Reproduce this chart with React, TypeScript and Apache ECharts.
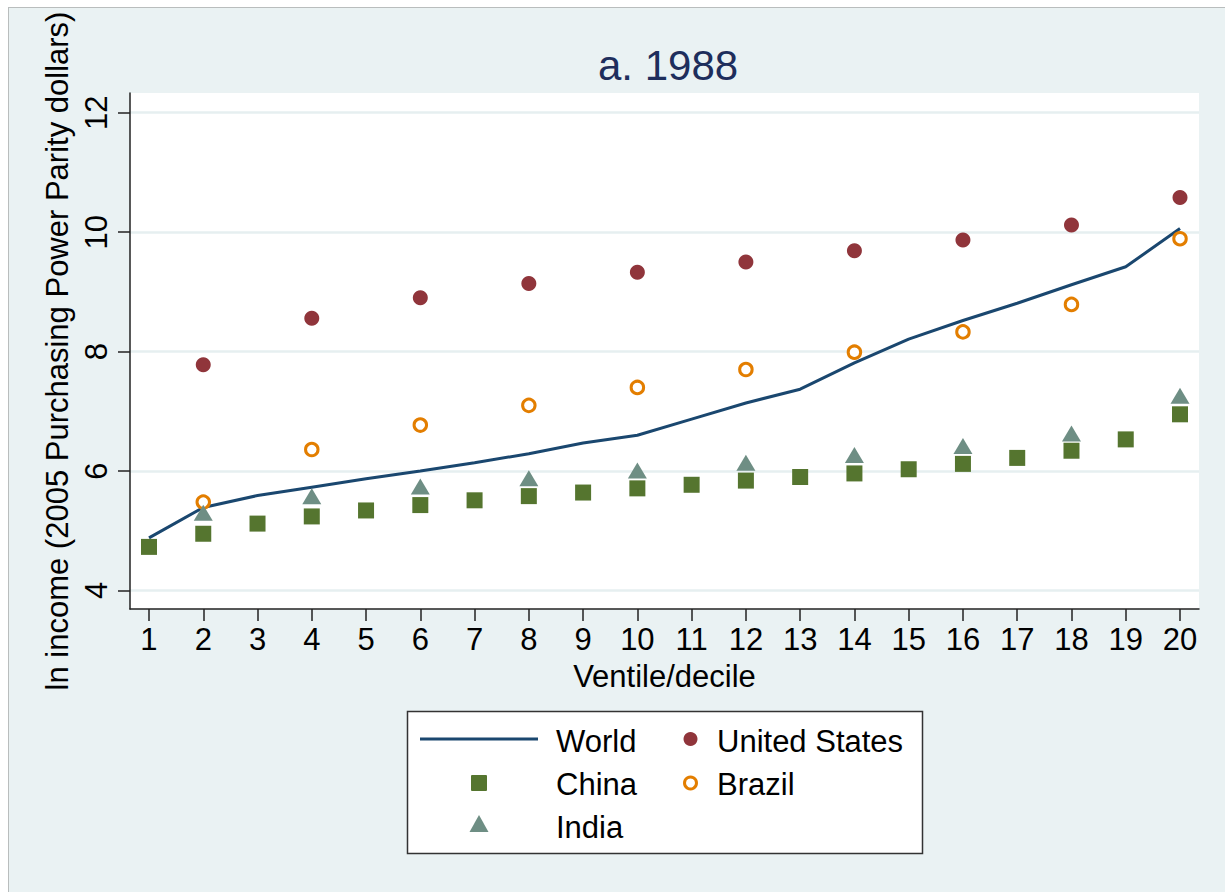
import React, { useEffect, useRef } from "react";
import * as echarts from "echarts";

const ventiles = [1, 2, 3, 4, 5, 6, 7, 8, 9, 10, 11, 12, 13, 14, 15, 16, 17, 18, 19, 20];
const deciles = [2, 4, 6, 8, 10, 12, 14, 16, 18, 20];
const yTicks = [4, 6, 8, 10, 12];

const world = [4.88, 5.39, 5.59, 5.73, 5.87, 6.0, 6.14, 6.29, 6.47, 6.6, 6.87, 7.14, 7.37, 7.81, 8.21, 8.52, 8.81, 9.12, 9.42, 10.06];
const china = [4.73, 4.95, 5.12, 5.24, 5.34, 5.43, 5.51, 5.58, 5.64, 5.71, 5.77, 5.84, 5.9, 5.96, 6.03, 6.12, 6.22, 6.34, 6.53, 6.95];
const unitedStates = [7.78, 8.56, 8.9, 9.14, 9.33, 9.5, 9.69, 9.87, 10.12, 10.58];
const brazil = [5.48, 6.36, 6.77, 7.1, 7.4, 7.7, 7.99, 8.33, 8.79, 9.89];
const india = [5.3, 5.58, 5.74, 5.88, 6.01, 6.14, 6.27, 6.42, 6.63, 7.26];

const C_WORLD = "#1A476F";
const C_US = "#90353B";
const C_CHINA = "#55752F";
const C_BRAZIL = "#E37E00";
const C_INDIA = "#6E8E84";
const FONT = "'Liberation Sans', Arial, sans-serif";

export default function App() {
  const ref = useRef<HTMLDivElement>(null);
  useEffect(() => {
    if (!ref.current) return;
    const chart = echarts.init(ref.current, null, { renderer: "svg" });
    const pairs = (xs: number[], ys: number[]) => xs.map((x, i) => [x, ys[i]]);
    const legendText = (x: number, y: number, t: string) => ({
      type: "text",
      x,
      y,
      style: { text: t, fontSize: 31, fontFamily: FONT, fill: "#000", verticalAlign: "middle", align: "left" },
      z: 10,
    });
    chart.setOption({
      animation: false,
      textStyle: { fontFamily: FONT },
      title: {
        text: "a. 1988",
        left: 593,
        top: 39,
        textStyle: { fontSize: 42, color: "#1E2E5C", fontWeight: "normal", fontFamily: FONT },
      },
      grid: {
        left: 130,
        right: 26,
        top: 93,
        bottom: 283,
        show: true,
        backgroundColor: "#fff",
        borderWidth: 0,
      },
      xAxis: {
        type: "value",
        min: 0.65,
        max: 20.35,
        name: "Ventile/decile",
        nameLocation: "middle",
        nameGap: 52,
        nameTextStyle: { fontSize: 31, color: "#000", fontFamily: FONT },
        axisLine: { show: true, onZero: false, lineStyle: { color: "#222", width: 1.5 } },
        axisTick: { show: true, customValues: ventiles, length: 12, lineStyle: { color: "#222", width: 1.5 } },
        axisLabel: { customValues: ventiles, fontSize: 31, color: "#000", margin: 15, fontFamily: FONT },
        splitLine: { show: false },
      },
      yAxis: {
        type: "value",
        min: 3.69,
        max: 12.33,
        name: "ln income (2005 Purchasing Power Parity dollars)",
        nameLocation: "middle",
        nameGap: 57,
        nameRotate: 90,
        nameTextStyle: { fontSize: 31, color: "#000", fontFamily: FONT },
        axisLine: { show: true, onZero: false, lineStyle: { color: "#222", width: 1.5 } },
        axisTick: { show: true, customValues: yTicks, length: 12, lineStyle: { color: "#222", width: 1.5 } },
        axisLabel: { customValues: yTicks, rotate: 90, fontSize: 31, color: "#000", margin: 18, fontFamily: FONT },
        splitLine: { show: true, lineStyle: { color: "#E6EFF0", width: 2.5 } },
      },
      series: [
        {
          name: "World",
          type: "line",
          data: pairs(ventiles, world),
          showSymbol: false,
          symbol: "none",
          lineStyle: { color: C_WORLD, width: 3 },
          z: 2,
        },
        {
          name: "United States",
          type: "scatter",
          data: pairs(deciles, unitedStates),
          symbol: "circle",
          symbolSize: 15,
          itemStyle: { color: C_US, opacity: 1 },
          z: 3,
        },
        {
          name: "China",
          type: "scatter",
          data: pairs(ventiles, china),
          symbol: "rect",
          symbolSize: 16,
          itemStyle: { color: C_CHINA, opacity: 1 },
          z: 3,
        },
        {
          name: "Brazil",
          type: "scatter",
          data: pairs(deciles, brazil),
          symbol: "circle",
          symbolSize: 12.5,
          itemStyle: { color: "#fff", borderColor: C_BRAZIL, borderWidth: 3, opacity: 1 },
          z: 3,
        },
        {
          name: "India",
          type: "scatter",
          data: pairs(deciles, india),
          symbol: "triangle",
          symbolSize: [19, 16],
          itemStyle: { color: C_INDIA, opacity: 1 },
          z: 4,
        },
      ],
      graphic: [
        {
          type: "rect",
          shape: { x: 407.5, y: 711.5, width: 515, height: 142 },
          style: { fill: "#fff", stroke: "#333", lineWidth: 1.5 },
          z: 5,
        },
        {
          type: "line",
          shape: { x1: 420, y1: 739, x2: 538, y2: 739 },
          style: { stroke: C_WORLD, lineWidth: 3 },
          z: 10,
        },
        legendText(556, 741, "World"),
        {
          type: "circle",
          shape: { cx: 690.5, cy: 739, r: 7 },
          style: { fill: C_US },
          z: 10,
        },
        legendText(717, 741, "United States"),
        {
          type: "rect",
          shape: { x: 471, y: 775, width: 16, height: 16, r: 1 },
          style: { fill: C_CHINA },
          z: 10,
        },
        legendText(556, 784, "China"),
        {
          type: "circle",
          shape: { cx: 690.5, cy: 783, r: 6 },
          style: { fill: "#fff", stroke: C_BRAZIL, lineWidth: 3 },
          z: 10,
        },
        legendText(717, 784, "Brazil"),
        {
          type: "polygon",
          shape: { points: [[469.5, 832], [488.5, 832], [479, 815]] },
          style: { fill: C_INDIA },
          z: 10,
        },
        legendText(556, 827, "India"),
      ],
    });
    return () => chart.dispose();
  }, []);
  return (
    <div style={{ position: "absolute", left: 0, top: 0, width: 1225, height: 892, background: "#fff" }}>
      <div
        style={{
          position: "absolute",
          left: 8,
          top: 7,
          width: 1217,
          height: 885,
          background: "#EAF2F3",
          borderLeft: "1px solid #B9BDBD",
          borderTop: "1px solid #B9BDBD",
          boxSizing: "border-box",
        }}
      />
      <div ref={ref} style={{ position: "absolute", left: 0, top: 0, width: 1225, height: 892 }} />
    </div>
  );
}
